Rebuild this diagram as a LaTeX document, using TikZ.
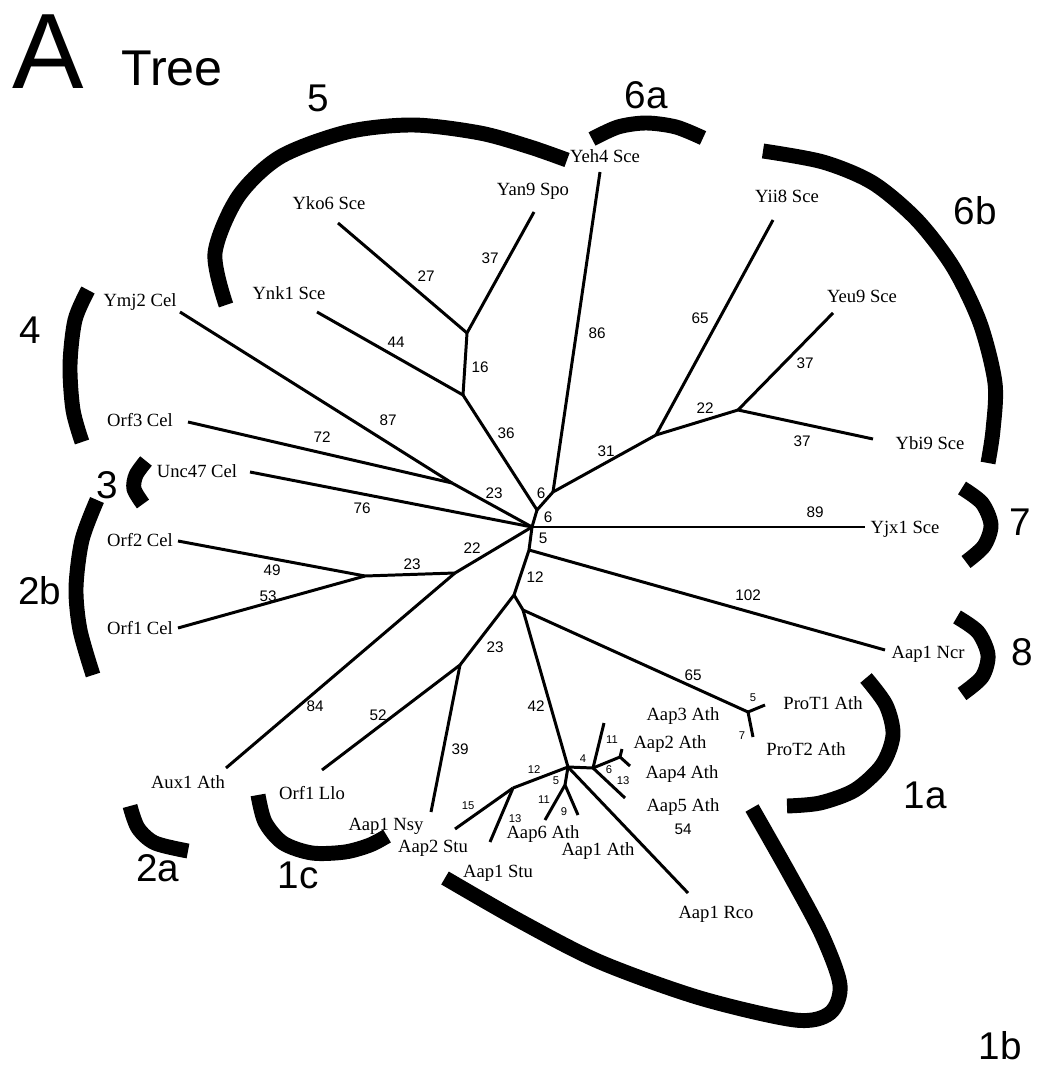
\documentclass[tikz,border=0pt]{standalone}
\usepackage{fontspec}
\setmainfont{Liberation Serif}
\setsansfont{Liberation Sans}

\tikzset{
  branch/.style={line width=1.7pt},
  clade/.style={line width=8.5pt},
  leaf/.style={font=\fontsize{10.6}{12}\selectfont, inner sep=0pt, text depth=0pt},
  len/.style={font=\sffamily\fontsize{8.7}{10}\selectfont, inner sep=0pt, text depth=0pt},
  lensmall/.style={font=\sffamily\fontsize{6.4}{7}\selectfont, inner sep=0pt, text depth=0pt},
  grp/.style={font=\sffamily\fontsize{22}{24}\selectfont, inner sep=0pt, text depth=0pt},
}

\begin{document}
\begin{tikzpicture}[x=0.02cm, y=-0.02cm]
  \useasboundingbox (0,0) rectangle (1047,1070);

  % heading
  \node[font=\sffamily\fontsize{61}{64}\selectfont, inner sep=0pt, text depth=0pt] (panel) at (48,52) {A};
  \node[font=\sffamily\fontsize{28.6}{30}\selectfont, inner sep=0pt, text depth=0pt] (title) at (172,68) {Tree};

  % inner nodes of the tree
  \coordinate (hub) at (532,527);
  \coordinate (u1) at (537,510);
  \coordinate (u2) at (553,492);
  \coordinate (g1) at (463,395);
  \coordinate (g2) at (467,333);
  \coordinate (r1) at (656,435);
  \coordinate (r2) at (738,410);
  \coordinate (w1) at (452,483);
  \coordinate (d1) at (529,550);
  \coordinate (d2) at (514,595);
  \coordinate (d3) at (523,610);
  \coordinate (s1) at (455,573);
  \coordinate (s2) at (365,576);
  \coordinate (m1) at (460,665);
  \coordinate (p1) at (748,712);
  \coordinate (a1) at (568,767);
  \coordinate (a2) at (593,768);
  \coordinate (a3) at (620,757);
  \coordinate (a4) at (513,788);
  \coordinate (a5) at (565,785);

  % leaf tips
  \foreach \n/\x/\y in {yeh4/600/172, yan9/534/212, yko6/338/223, ynk1/317/312,
      yii8/773/220, yeu9/833/313, ybi9/873/439, yjx1/865/527, ncr/885/650,
      prot1/765/705, prot2/753/737, aap3/604/723, aap2/622/749, aap4/630/766,
      aap5/625/798, rco/688/893, aap1ath/578/815, aap6/545/820, aap1stu/490/842,
      aap2stu/455/829, nsy/431/812, llo/322/770, aux1/226/768, orf1cel/178/628,
      orf2cel/178/541, unc47/250/472, orf3/188/422, ymj2/180/312}
    \coordinate (t-\n) at (\x,\y);

  % branches
  \foreach \a/\b in {hub/u1, u1/u2, u1/g1, g1/g2, g1/t-ynk1, g2/t-yko6, g2/t-yan9,
      u2/t-yeh4, u2/r1, r1/t-yii8, r1/r2, r2/t-yeu9, r2/t-ybi9, hub/t-yjx1,
      hub/d1, d1/t-ncr, d1/d2, d2/d3, d3/p1, p1/t-prot1, p1/t-prot2, d3/a1,
      a1/a2, a2/t-aap3, a2/a3, a3/t-aap2, a3/t-aap4, a2/t-aap5, a1/t-rco,
      a1/a5, a5/t-aap6, a5/t-aap1ath, a1/a4, a4/t-aap2stu, a4/t-aap1stu,
      d2/m1, m1/t-llo, m1/t-nsy, hub/s1, s1/s2, s2/t-orf2cel, s2/t-orf1cel,
      s1/t-aux1, hub/t-unc47, hub/w1, w1/t-orf3, w1/t-ymj2}
    \draw[branch] (\a) -- (\b);

  % taxon names
  \foreach \n/\x/\y/\t in {yeh4/605/156/Yeh4 Sce, yan9/533/189/Yan9 Spo,
      yko6/329/203/Yko6 Sce, ynk1/289/293/Ynk1 Sce, yii8/787/196/Yii8 Sce,
      yeu9/862/296/Yeu9 Sce, ybi9/930/443/Ybi9 Sce, yjx1/905/527/Yjx1 Sce,
      ncr/928/652/Aap1 Ncr, prot1/823/703/ProT1 Ath, prot2/806/749/ProT2 Ath,
      aap3/683/714/Aap3 Ath, aap2/670/742/Aap2 Ath, aap4/682/772/Aap4 Ath,
      aap5/683/805/Aap5 Ath, rco/716/912/Aap1 Rco, aap1ath/598/849/Aap1 Ath,
      aap6/543/832/Aap6 Ath, aap1stu/498/871/Aap1 Stu, aap2stu/433/846/Aap2 Stu,
      nsy/386/824/Aap1 Nsy, llo/312/793/Orf1 Llo, aux1/188/782/Aux1 Ath,
      orf1cel/140/628/Orf1 Cel, orf2cel/140/540/Orf2 Cel, unc47/197/471/Unc47 Cel,
      orf3/140/420/Orf3 Cel, ymj2/140/300/Ymj2 Cel}
    \node[leaf] (n-\n) at (\x,\y) {\t};

  % branch lengths
  \foreach \n/\x/\y/\t in {a/815/512/89, b/748/595/102, c/693/675/65, d/536/706/42,
      e/495/647/23, f/378/715/52, g/460/749/39, h/683/829/54, i/315/706/84,
      j/472/548/22, k/412/564/23, l/272/570/49, m/268/596/53, n/362/508/76,
      o/322/437/72, p/388/420/87, q/494/493/23, r/506/433/36, s/396/342/44,
      t/480/367/16, u/426/276/27, v/490/258/37, w/597/333/86, x/606/451/31,
      y/700/318/65, z/705/408/22, aa/805/363/37, ab/802/441/37, ac/541/493/6,
      ad/548/517/6, ae/543/538/5, af/535/577/12}
    \node[len] (l-\n) at (\x,\y) {\t};
  \foreach \n/\x/\y/\t in {a/753/698/5, b/742/736/7, c/583/759/4, d/612/740/11,
      e/609/770/6, f/623/781/13, g/534/770/12, h/556/781/5, i/468/806/15,
      j/515/819/13, k/544/800/11, l/564/812/9}
    \node[lensmall] (s-\n) at (\x,\y) {\t};

  % clade brackets
  \draw[clade] plot[smooth] coordinates {(226,305) (215,253) (238,197) (280,157) (347,132) (413,125) (480,133) (530,147) (567,160)};
  \draw[clade] plot[smooth] coordinates {(592,139) (618,127) (646,123) (676,127) (703,138)};
  \draw[clade] plot[smooth] coordinates {(763,151) (823,162) (873,183) (917,220) (953,267) (980,323) (995,383) (993,430) (988,463)};
  \draw[clade] plot[smooth] coordinates {(88,290) (75,320) (70,365) (73,410) (82,442)};
  \draw[clade] plot[smooth] coordinates {(146,461) (136,475) (134,489) (143,504)};
  \draw[clade] plot[smooth] coordinates {(97,500) (82,540) (76,588) (80,630) (93,675)};
  \draw[clade] plot[smooth] coordinates {(962,488) (982,503) (991,525) (984,546) (966,562)};
  \draw[clade] plot[smooth] coordinates {(957,617) (978,632) (988,655) (982,677) (962,694)};
  \draw[clade] plot[smooth] coordinates {(866,678) (886,705) (893,735) (882,765) (855,790) (820,803) (787,806)};
  \draw[clade] plot[smooth] coordinates {(752,808) (790,875) (822,935) (840,985) (830,1013) (795,1020) (700,998) (600,962) (520,921) (445,878)};
  \draw[clade] plot[smooth] coordinates {(258,795) (265,822) (283,843) (312,853) (345,852) (370,845) (387,836)};
  \draw[clade] plot[smooth] coordinates {(130,806) (138,828) (155,843) (188,851)};

  % clade numbers
  \foreach \n/\x/\y/\t in {c5/318/98/5, c6a/646/95/6a, c6b/975/211/6b, c4/30/330/4,
      c3/107/485/3, c2b/40/590/2b, c7/1020/522/7, c8/1022/652/8, c1a/925/795/1a,
      c2a/158/868/2a, c1c/298/875/1c, c1b/1000/1045/1b}
    \node[grp] (\n) at (\x,\y) {\t};
\end{tikzpicture}
\end{document}
